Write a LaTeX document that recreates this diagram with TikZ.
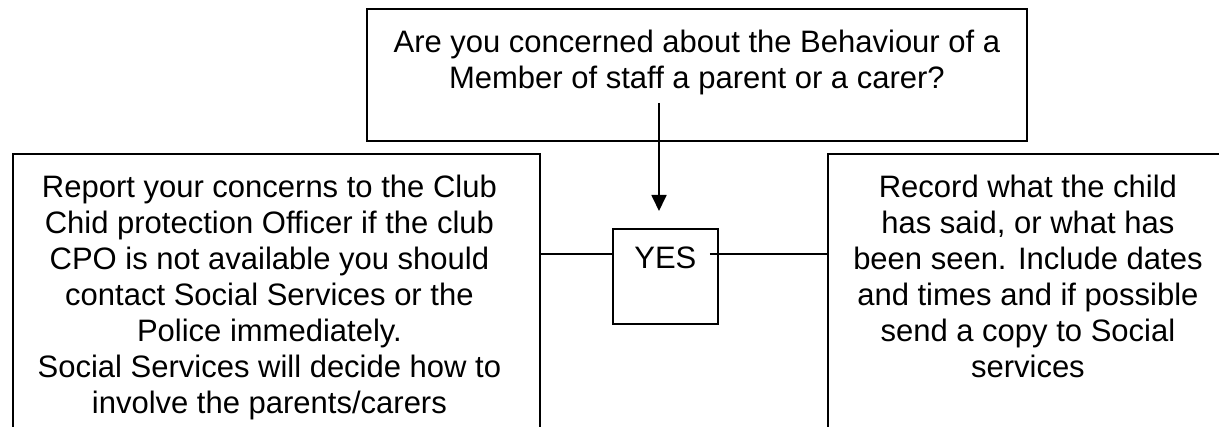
\documentclass[tikz,border=0pt]{standalone}
\usepackage{fontspec}
\setmainfont{Liberation Sans}
\usetikzlibrary{positioning,arrows.meta}
\tikzset{
    >={Triangle[length=16pt,width=15pt]},
    flowbox/.style={
        rectangle,
        draw,
        line width=1.8pt,
        inner sep=0pt,
        anchor=north west
    },
    line/.style={draw, line width=1.8pt},
    font={\fontsize{31pt}{36pt}\selectfont},
}
\newcommand{\boxtext}[4][21pt]{\parbox[c][#2][t]{#3}{\centering\vspace*{#1}#4}}

\begin{document}
\begin{tikzpicture}[x=1pt,y=1pt]
\useasboundingbox (0,0) rectangle (1219,-427);
\clip (0,0) rectangle (1219,-427);

% Boxes
\node[flowbox] (question) at (366,-8) {\boxtext{132pt}{660pt}{Are you concerned about the Behaviour of a\\Member of staff a parent or a carer?}};
\node[flowbox] (report) at (12,-153) {\boxtext{282pt}{527pt}{\rightskip=14pt plus 1fil Report your concerns to the Club\\Chid protection Officer if the club\\CPO is not available you should\\contact Social Services or the\\Police immediately.\\Social Services will decide how to\\involve the parents/carers}};
\node[flowbox] (yes) at (612,-228) {\boxtext[18pt]{95pt}{105pt}{YES}};
\node[flowbox] (record) at (827,-153) {\boxtext{282pt}{400pt}{Record what the child\\has said, or what has\\been seen. Include dates\\and times and if possible\\send a copy to Social\\services}};

% Connectors
\coordinate (qstart) at (659,-103);
\coordinate (qtip) at (659,-211);
\coordinate (yesleft) at ([yshift=22.5pt]yes.west);
\coordinate (yesright) at ([yshift=22.5pt,xshift=-9pt]yes.east);
\draw[line,->] (qstart) -- (qtip);
\draw[line] (yesleft -| report.east) -- (yesleft);
\draw[line] (yesright) -- (yesright -| record.west);
\end{tikzpicture}
\end{document}
